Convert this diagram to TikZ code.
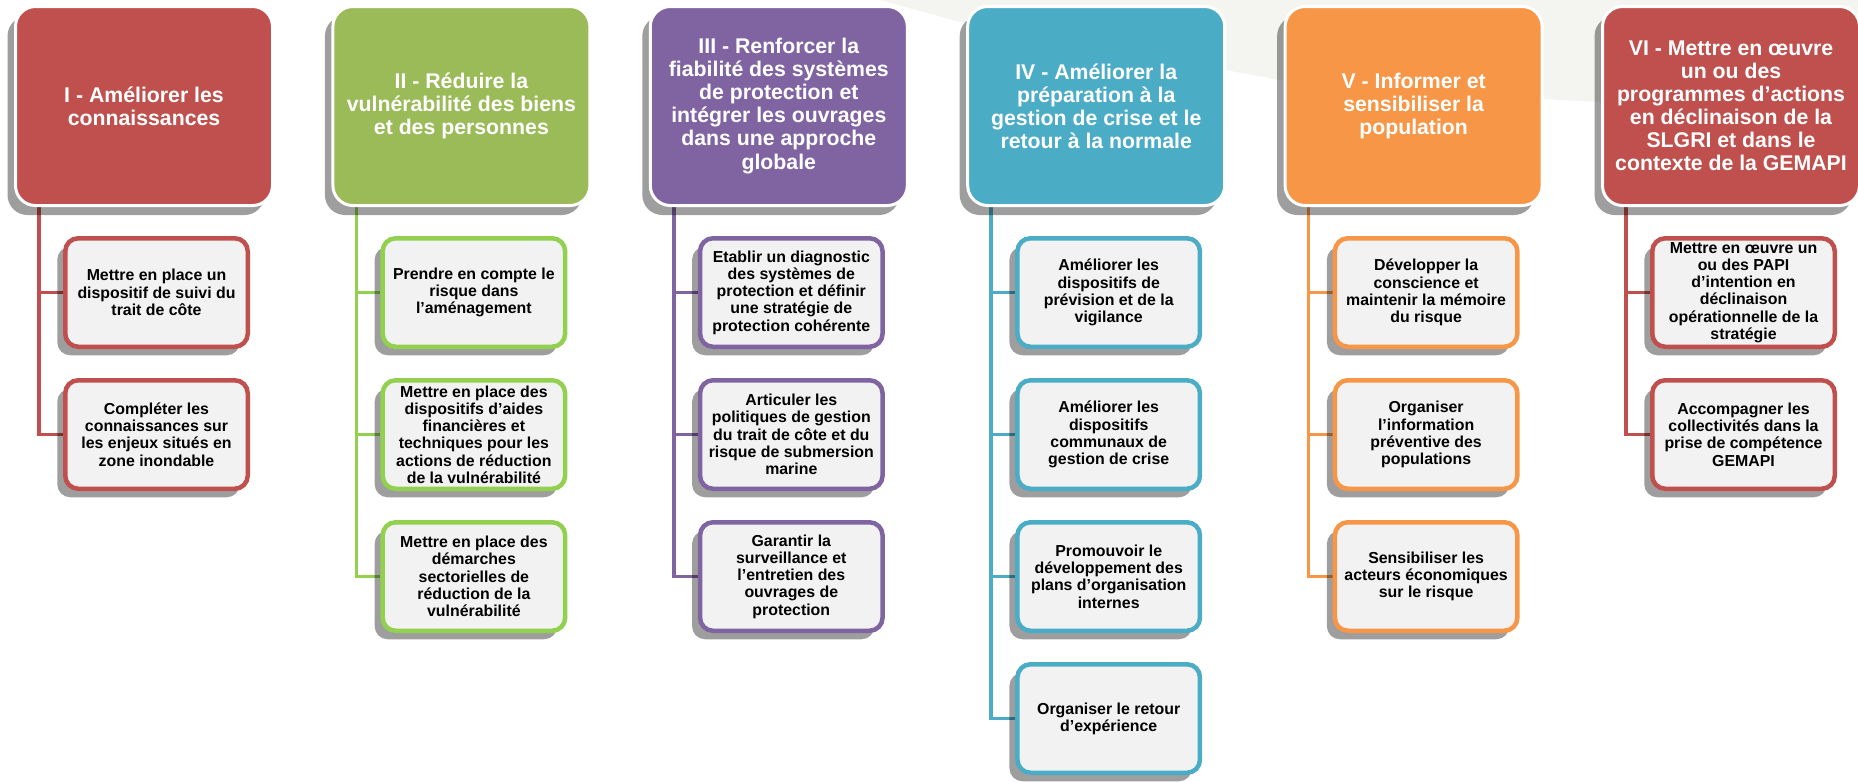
\documentclass[tikz,border=0pt]{standalone}
\usepackage{fontspec}
\setmainfont{Liberation Sans}
\usetikzlibrary{shadows,backgrounds}

\definecolor{axered}{HTML}{C0504D}
\definecolor{axeolive}{HTML}{9BBB59}
\definecolor{axelime}{HTML}{92D050}
\definecolor{axepurple}{HTML}{8064A2}
\definecolor{axeblue}{HTML}{4BACC6}
\definecolor{axeorange}{HTML}{F79646}
\definecolor{boxfill}{HTML}{F2F2F2}
\definecolor{ribbon}{HTML}{F4F4F0}

\begin{document}
\begin{tikzpicture}[x=0.1mm, y=-0.1mm]
  \def\pitch{317.4}
  \tikzset{
    axe/.style={rounded corners=2mm, draw=white, line width=0.3mm,
      text=white, align=center, inner sep=0pt,
      minimum width=25.7mm, minimum height=19.9mm,
      font=\fontsize{6.05pt}{6.55pt}\selectfont\bfseries,
      drop shadow={shadow xshift=-0.8mm, shadow yshift=-0.95mm,
        fill=black, opacity=0.38}},
    action/.style={rounded corners=1.3mm, fill=boxfill, line width=0.45mm,
      text=black, align=center, inner sep=0pt,
      minimum width=18.25mm, minimum height=10.85mm,
      font=\fontsize{4.52pt}{4.9pt}\selectfont\bfseries,
      drop shadow={shadow xshift=-0.8mm, shadow yshift=-0.85mm,
        fill=black, opacity=0.38}},
    branch/.style={line width=0.35mm}
  }
  \useasboundingbox (0,0) rectangle (1858,781);
  \begin{scope}[on background layer]
    \fill[ribbon] (880,0) -- (1858,0) -- (1858,115) -- (1560,100)
      -- (1280,80) -- (960,22) -- cycle;
  \end{scope}
  \foreach \head/\tone/\wire/\acts [count=\i] in {%
    {I - Améliorer les\\connaissances}/axered/axered/%
      {{Mettre en place un\\dispositif de suivi du\\trait de côte},%
       {Compléter les\\connaissances sur\\les enjeux situés en\\zone inondable}},%
    {II - Réduire la\\vulnérabilité des biens\\et des personnes}/axeolive/axelime/%
      {{Prendre en compte le\\risque dans\\l’aménagement},%
       {Mettre en place des\\dispositifs d’aides\\financières et\\techniques pour les\\actions de réduction\\de la vulnérabilité},%
       {Mettre en place des\\démarches\\sectorielles de\\réduction de la\\vulnérabilité}},%
    {III - Renforcer la\\fiabilité des systèmes\\de protection et\\intégrer les ouvrages\\dans une approche\\globale}/axepurple/axepurple/%
      {{Etablir un diagnostic\\des systèmes de\\protection et définir\\une stratégie de\\protection cohérente},%
       {Articuler les\\politiques de gestion\\du trait de côte et du\\risque de submersion\\marine},%
       {Garantir la\\surveillance et\\l’entretien des\\ouvrages de\\protection}},%
    {IV - Améliorer la\\préparation à la\\gestion de crise et le\\retour à la normale}/axeblue/axeblue/%
      {{Améliorer les\\dispositifs de\\prévision et de la\\vigilance},%
       {Améliorer les\\dispositifs\\communaux de\\gestion de crise},%
       {Promouvoir le\\développement des\\plans d’organisation\\internes},%
       {Organiser le retour\\d’expérience}},%
    {V - Informer et\\sensibiliser la\\population}/axeorange/axeorange/%
      {{Développer la\\conscience et\\maintenir la mémoire\\du risque},%
       {Organiser\\l’information\\préventive des\\populations},%
       {Sensibiliser les\\acteurs économiques\\sur le risque}},%
    {VI - Mettre en œuvre\\un ou des\\programmes d’actions\\en déclinaison de la\\SLGRI et dans le\\contexte de la GEMAPI}/axered/axered/%
      {{Mettre en œuvre un\\ou des PAPI\\d’intention en\\déclinaison\\opérationnelle de la\\stratégie},%
       {Accompagner les\\collectivités dans la\\prise de compétence\\GEMAPI}}%
  } {
    \pgfmathsetmacro\hx{17 + \pitch*(\i-1)}
    \node[axe, fill=\tone] (h\i) at ({\hx+127}, 106) {\head};
    \foreach \act [count=\j] in \acts {
      \node[action, draw=\wire] (a\i-\j) at ({\hx+139.5}, {292.5+142*(\j-1)}) {\act};
      \begin{scope}[on background layer]
        \draw[branch, \wire] ([xshift=2.5mm]h\i.south west) |- (a\i-\j.west);
      \end{scope}
    }
  }
\end{tikzpicture}
\end{document}
